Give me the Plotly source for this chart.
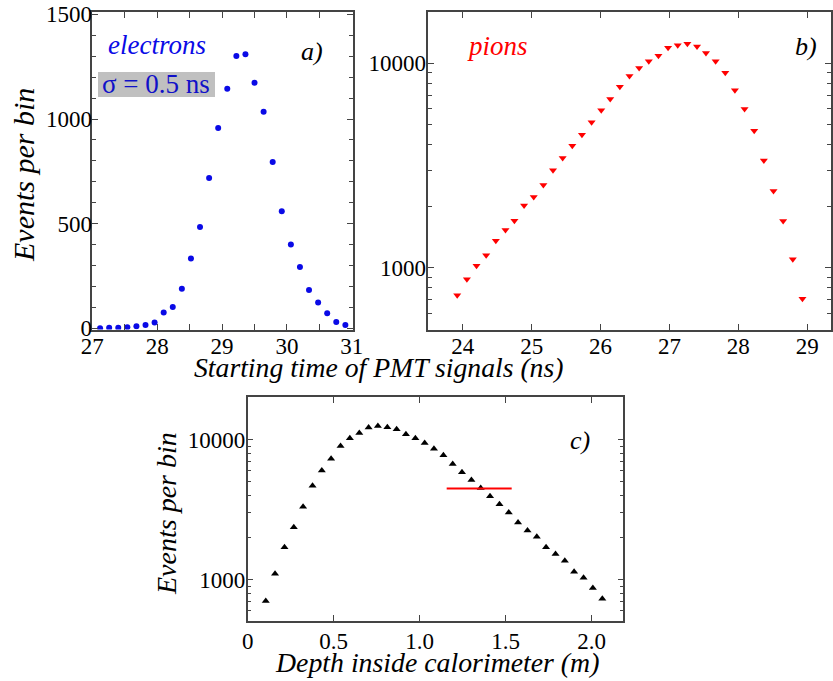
import plotly.graph_objects as go

# ---------------- data ----------------
# panel a) electrons : starting time (ns) vs events per bin
e_time = [27.12, 27.26, 27.40, 27.54, 27.68, 27.82, 27.96, 28.10, 28.24, 28.38,
          28.52, 28.66, 28.80, 28.94, 29.08, 29.22, 29.36, 29.50, 29.64, 29.78,
          29.92, 30.06, 30.20, 30.34, 30.48, 30.62, 30.76, 30.90]
e_events = [0, 2, 2, 5, 10, 16, 27, 75, 102, 189,
            333, 484, 718, 957, 1145, 1301, 1310, 1173, 1035, 794,
            559, 400, 293, 183, 123, 72, 30, 16]

# panel b) pions : starting time (ns) vs events per bin
p_time = [23.92, 24.06, 24.20, 24.34, 24.48, 24.62, 24.75, 24.89, 25.03, 25.17,
          25.31, 25.45, 25.59, 25.73, 25.87, 26.01, 26.14, 26.28, 26.42, 26.56,
          26.70, 26.84, 26.98, 27.12, 27.26, 27.40, 27.53, 27.67, 27.81, 27.95,
          28.09, 28.23, 28.37, 28.51, 28.65, 28.79, 28.93]
p_events = [733, 877, 1023, 1149, 1356, 1529, 1698, 2018, 2217, 2540,
            2995, 3442, 3956, 4477, 5144, 5888, 6687, 7688, 8670, 9490,
            10230, 10900, 11930, 12250, 12480, 12110, 11230, 10230, 9000, 7380,
            5977, 4680, 3350, 2372, 1692, 1101, 705]

# panel c) depth inside calorimeter (m) vs events per bin
c_depth = [0.105, 0.159, 0.214, 0.268, 0.322, 0.377, 0.431, 0.485, 0.540, 0.594,
           0.649, 0.703, 0.757, 0.812, 0.866, 0.920, 0.975, 1.029, 1.083, 1.138,
           1.192, 1.246, 1.301, 1.355, 1.409, 1.464, 1.518, 1.572, 1.627, 1.681,
           1.735, 1.790, 1.844, 1.898, 1.953, 2.007, 2.062]
c_events = [704, 1104, 1702, 2366, 3320, 4690, 6010, 7310, 9010, 10220,
            11160, 12180, 12520, 12250, 11850, 10920, 10220, 9470, 8620, 7730,
            6700, 5840, 5157, 4520, 3940, 3452, 3011, 2555, 2240, 2029,
            1702, 1525, 1367, 1141, 1033, 871, 731]

# red marker line in panel c
red_line_x = [1.157, 1.535]
red_line_y = [4470, 4470]

# tick labels
a_xticks = [27, 28, 29, 30, 31]
a_yticks = [0, 500, 1000, 1500]
b_xticks = [24, 25, 26, 27, 28, 29]
log_yticks = [1000, 10000]
log_yticktext = ["1000", "10000"]
log_minor = [500, 600, 700, 800, 900, 2000, 3000, 4000, 5000, 6000, 7000, 8000, 9000, 20000]
c_xticks = [0, 0.5, 1.0, 1.5, 2.0]
c_xticktext = ["0", "0.5", "1.0", "1.5", "2.0"]

# ---------------- figure ----------------
W, H = 833, 681
FONT = "Liberation Serif, Times New Roman, Times, serif"
BLUE = "#0a0ae6"
RED = "#ff0000"

fig = go.Figure()
fig.add_trace(go.Scatter(x=e_time, y=e_events, mode="markers",
                         marker=dict(symbol="circle", size=6, color=BLUE),
                         xaxis="x", yaxis="y", showlegend=False))
fig.add_trace(go.Scatter(x=p_time, y=p_events, mode="markers",
                         marker=dict(symbol="triangle-down", size=7, color=RED),
                         xaxis="x2", yaxis="y2", showlegend=False))
fig.add_trace(go.Scatter(x=c_depth, y=c_events, mode="markers",
                         marker=dict(symbol="triangle-up", size=7, color="black"),
                         xaxis="x3", yaxis="y3", showlegend=False))
fig.add_trace(go.Scatter(x=red_line_x, y=red_line_y, mode="lines",
                         line=dict(color=RED, width=2),
                         xaxis="x3", yaxis="y3", showlegend=False))


def px_x(p):
    return p / W


def px_y(p):
    return 1 - p / H


axis_common = dict(showgrid=False, zeroline=False, showline=True, linecolor="#444",
                   linewidth=1.5, mirror="ticks", ticks="inside", tickcolor="#444",
                   ticklen=6, tickwidth=1, automargin=False, ticklabeloverflow="allow",
                   tickfont=dict(family=FONT, size=23, color="black"))
minor_log = dict(tickvals=log_minor, ticks="inside", ticklen=4, tickcolor="#444")

fig.update_layout(
    width=W, height=H, margin=dict(l=0, r=0, t=0, b=0, autoexpand=False),
    paper_bgcolor="white", plot_bgcolor="white",
    font=dict(family=FONT),
    xaxis=dict(domain=[px_x(92.3), px_x(352.5)], range=[27, 31.01], anchor="y",
               tickvals=a_xticks, ticklabelstandoff=-5,
               minor=dict(dtick=0.5, ticks="inside", ticklen=6, tickcolor="#444"),
               **axis_common),
    yaxis=dict(domain=[px_y(329.5), px_y(12.3)], range=[-6, 1510], anchor="x",
               tickvals=a_yticks, ticklabelstandoff=-6,
               minor=dict(dtick=100, ticks="inside", ticklen=4, tickcolor="#444"),
               **axis_common),
    xaxis2=dict(domain=[px_x(428.3), px_x(830.7)], range=[23.5, 29.34], anchor="y2",
                tickvals=b_xticks, ticklabelstandoff=-5, **axis_common),
    yaxis2=dict(domain=[px_y(330), px_y(12.3)], type="log", range=[2.695, 4.25], anchor="x2",
                tickvals=log_yticks, ticktext=log_yticktext, ticklabelstandoff=-4,
                minor=minor_log, **axis_common),
    xaxis3=dict(domain=[px_x(247.7), px_x(623.3)], range=[0, 2.184], anchor="y3",
                tickvals=c_xticks, ticktext=c_xticktext, ticklabelstandoff=-1,
                **axis_common),
    yaxis3=dict(domain=[px_y(621), px_y(397.3)], type="log", range=[2.705, 4.302], anchor="x3",
                tickvals=log_yticks, ticktext=log_yticktext, ticklabelstandoff=-4,
                minor=minor_log, **axis_common),
)

# grey box behind the sigma label (decoration, paper coordinates)
fig.add_shape(type="rect", xref="paper", yref="paper",
              x0=px_x(98), x1=px_x(215), y0=px_y(97), y1=px_y(72),
              fillcolor="#c0c0c0", line=dict(width=0), layer="below")

ann = []


def add_text(text, x, y, size, color="black", angle=0, italic=True):
    t = f"<i>{text}</i>" if italic else text
    ann.append(dict(text=t, x=px_x(x), y=px_y(y), xref="paper", yref="paper",
                    showarrow=False, xanchor="center", yanchor="middle", textangle=angle,
                    font=dict(family=FONT, size=size, color=color)))


add_text("electrons", 157, 45, 27, BLUE)
add_text("σ = 0.5 ns", 156, 84, 27, "#1010c8", italic=False)
add_text("a)", 312, 51, 26)
add_text("pions", 497, 46, 27, RED)
add_text("b)", 806, 47, 26)
add_text("c)", 580, 440, 26)
add_text("Events per bin", 23, 175, 30, angle=-90)
add_text("Events per bin", 166, 514, 28, angle=-90)
add_text("Starting time of PMT signals (ns)", 378, 367, 27.7)
add_text("Depth inside calorimeter (m)", 437, 662, 27.8)

fig.update_layout(annotations=ann)
# remove the default 8px page margin so the figure fills the window exactly
fig.write_html("out.html", config={"displayModeBar": False},
               post_script="document.body.style.margin='0';")
